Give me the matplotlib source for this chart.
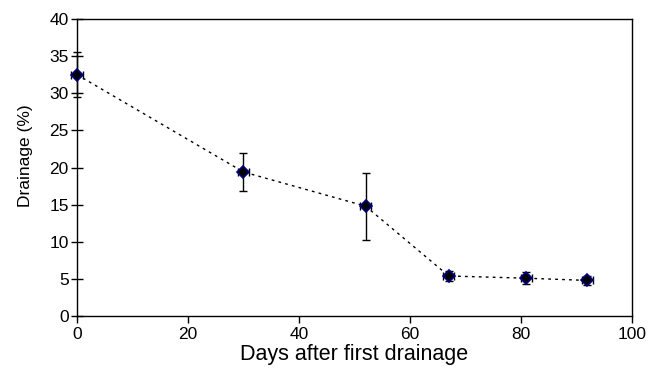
import matplotlib.pyplot as plt

plt.rcParams['font.family'] = ['Liberation Sans', 'DejaVu Sans']

# Drainage over time
days = [0, 30, 52, 67, 81, 92]
drainage = [32.5, 19.4, 14.8, 5.4, 5.1, 4.8]
drainage_err = [3.0, 2.6, 4.5, 0.7, 0.8, 0.6]
days_err = [1.0, 1.0, 1.0, 1.0, 1.0, 1.0]

fig = plt.figure(figsize=(6.49, 3.71), dpi=100)
ax = fig.add_axes([0.1186, 0.148, 0.855, 0.801])

ax.plot(days, drainage, linestyle=(0, (2, 3)), color='black', linewidth=1, zorder=2)
eb = ax.errorbar(days, drainage, yerr=drainage_err, xerr=days_err, fmt='none',
                 ecolor='black', elinewidth=1, capsize=3, capthick=1, zorder=3)
for art in eb.get_children():
    art.set_clip_on(False)
ax.plot(days, drainage, linestyle='none', marker='D', markersize=6.5,
        markerfacecolor='black', markeredgecolor='#00007f', markeredgewidth=1.2,
        zorder=4, clip_on=False)

ax.set_xlim(0, 100)
ax.set_ylim(0, 40)
ax.set_xticks(range(0, 101, 20))
ax.set_yticks(range(0, 41, 5))
ax.tick_params(axis='x', direction='out', length=5, width=1, labelsize=12.5, pad=3)
ax.tick_params(axis='y', direction='inout', length=8, width=1, labelsize=12.5, pad=2)
for s in ax.spines.values():
    s.set_linewidth(1)

ax.set_xlabel('Days after first drainage', fontsize=15.5, labelpad=1)
ax.set_ylabel('Drainage (%)', fontsize=12.5)
ax.yaxis.set_label_coords(-0.08, 0.54)

fig.savefig('out.png', dpi=100)
